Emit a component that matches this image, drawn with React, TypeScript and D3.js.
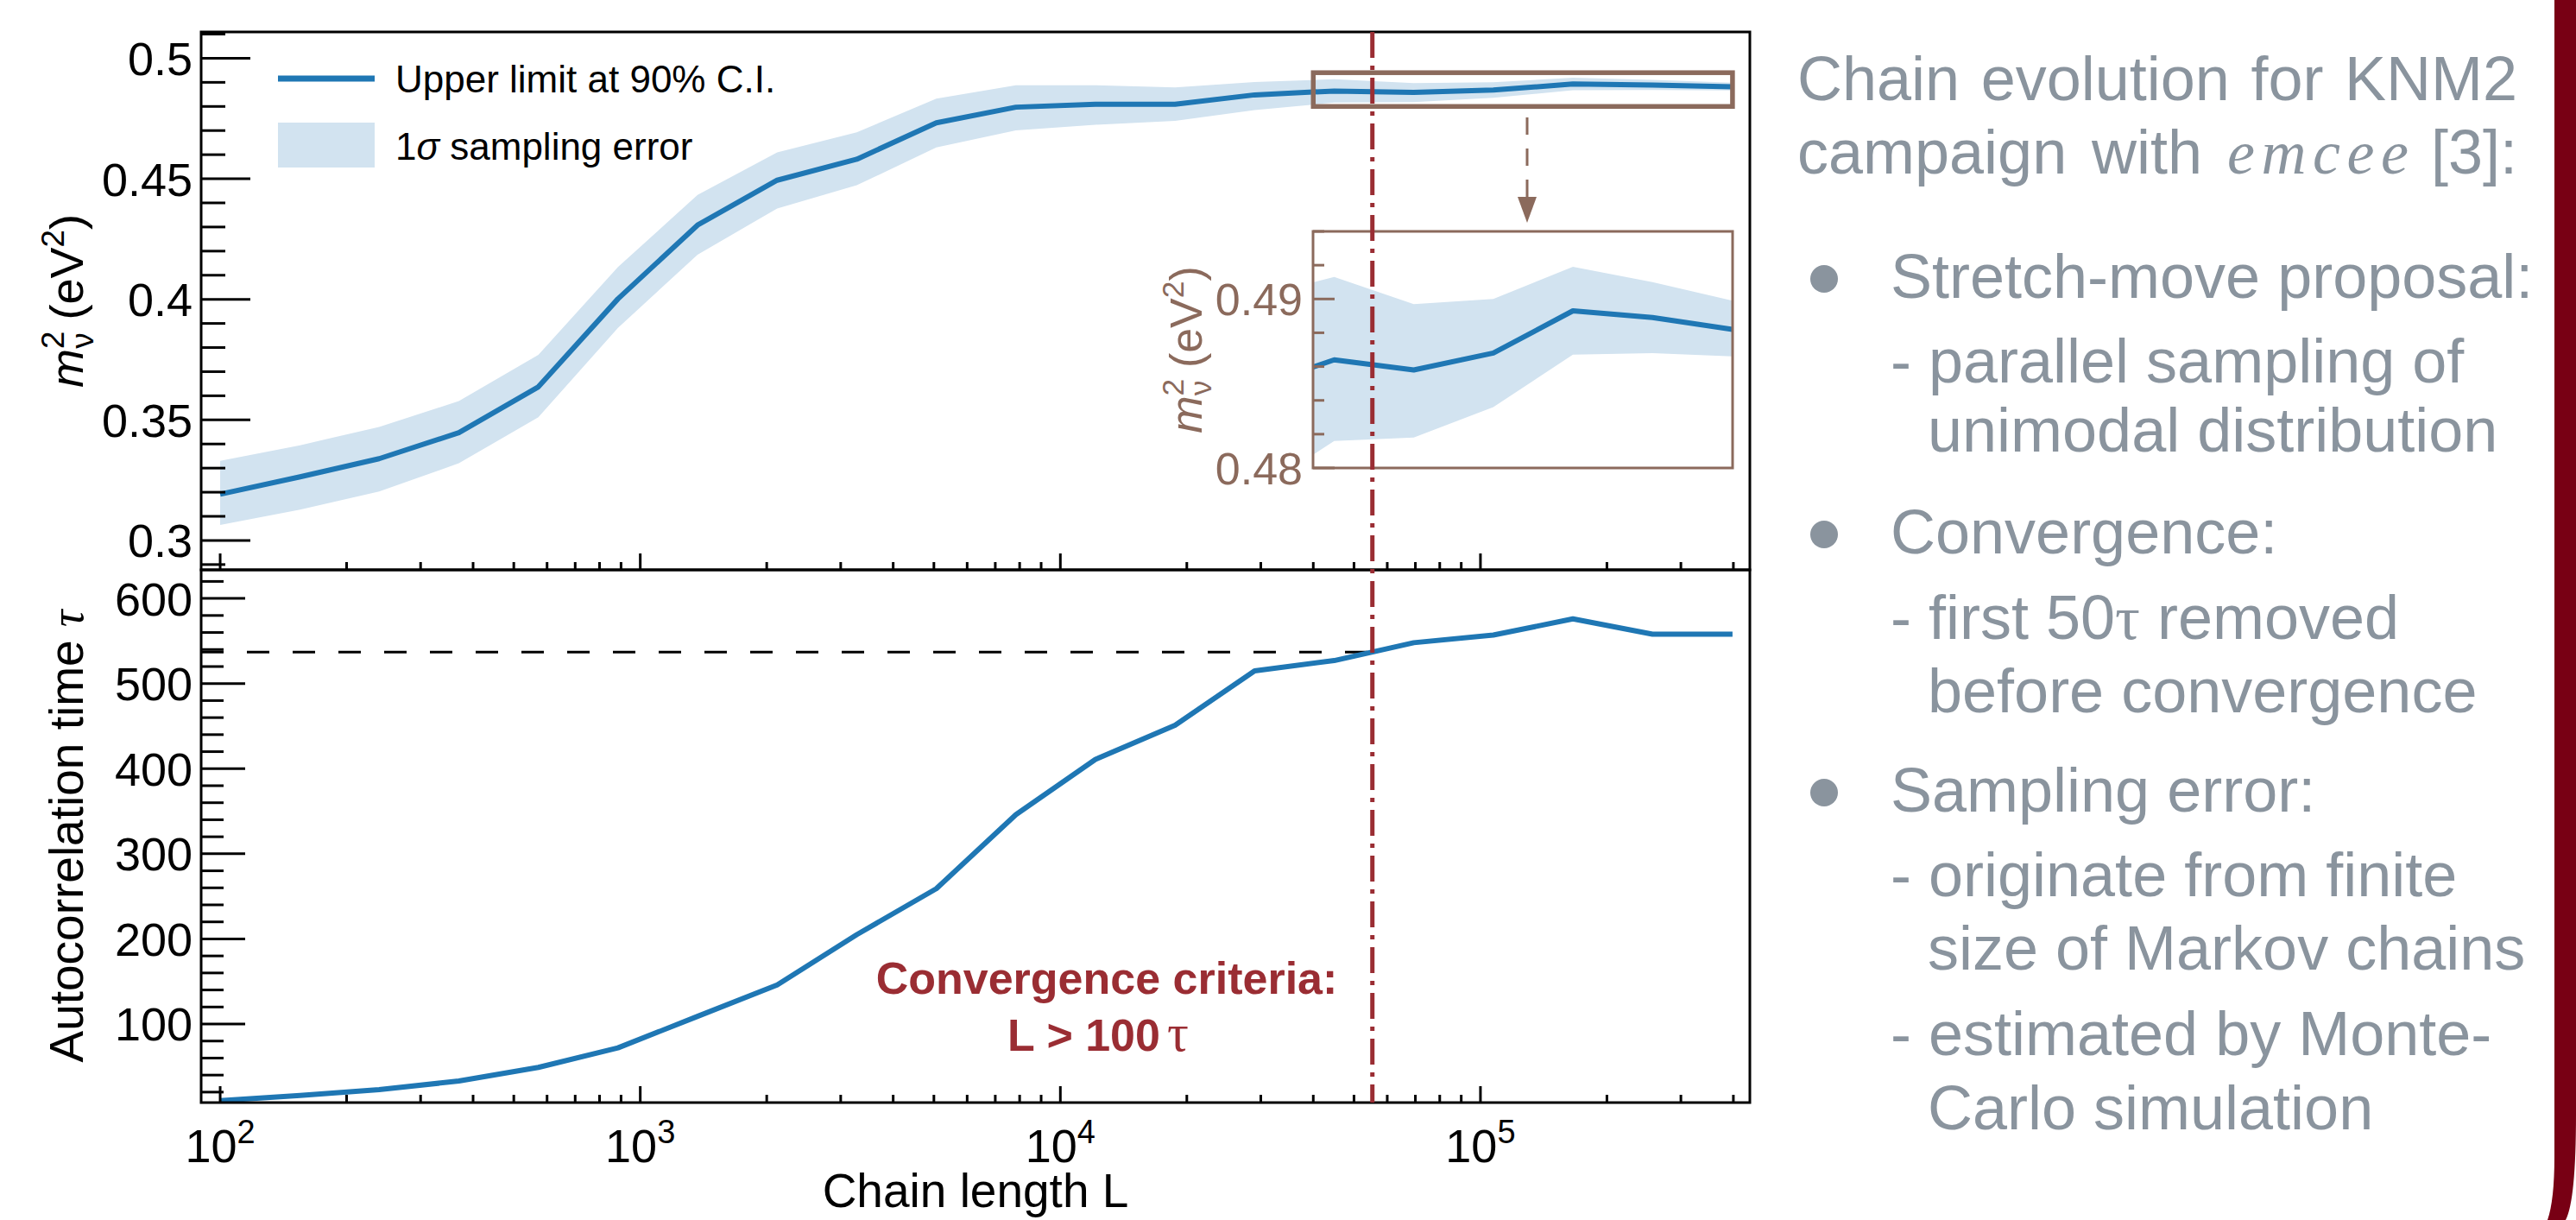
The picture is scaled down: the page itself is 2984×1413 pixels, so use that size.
import React, { useEffect, useRef } from 'react';
import * as d3 from 'd3';

// chain length L at which the chain was evaluated
const chainLength = [100, 155, 239, 370, 572, 885, 1369, 2118, 3276, 5067, 7837, 12122, 18750, 29001, 44857, 69382, 107316, 165990, 256747, 398107];
// upper limit on m_nu^2 at 90% C.I. (eV^2) and its 1 sigma sampling band
const upperLimit = [0.3192, 0.3264, 0.3339, 0.3447, 0.3637, 0.4002, 0.4308, 0.4494, 0.4581, 0.4732, 0.4797, 0.4809, 0.4809, 0.4848, 0.4864, 0.4858, 0.4868, 0.4893, 0.4889, 0.4882];
const errLow = [0.3064, 0.3128, 0.3203, 0.332, 0.3511, 0.3882, 0.4185, 0.4377, 0.4473, 0.463, 0.4701, 0.4724, 0.474, 0.4785, 0.4816, 0.4818, 0.4836, 0.4867, 0.4868, 0.4866];
const errHigh = [0.333, 0.3395, 0.3471, 0.3578, 0.377, 0.4134, 0.4433, 0.4609, 0.4693, 0.4832, 0.4888, 0.4888, 0.4879, 0.4901, 0.4913, 0.4897, 0.49, 0.4919, 0.491, 0.4899];
// autocorrelation time tau
const autocorrTime = [10, 16, 23, 33, 49, 72, 109, 146, 205, 259, 346, 411, 451, 515, 527, 548, 557, 576, 558, 558];

const convergenceL = 55300;
const convergenceTau = 537;
const zoomL = [40000, 398107];
const zoomM = [0.48, 0.494];

const massTicks = [0.3, 0.35, 0.4, 0.45, 0.5];
const tauTicks = [100, 200, 300, 400, 500, 600];
const insetTicks = [0.48, 0.49];
const decades = [2, 3, 4, 5];

const legendLabels = ['Upper limit at 90% C.I.', 'sampling error'];

const introWords = [
  ['Chain', 'evolution', 'for', 'KNM2'],
  ['campaign', 'with', 'emcee', '[3]:'],
];
const bulletHeads = ['Stretch-move proposal:', 'Convergence:', 'Sampling error:'];
const bulletDetails = [
  ['- parallel sampling of', 'unimodal distribution'],
  ['- first 50τ removed', 'before convergence'],
  ['- originate from finite', 'size of Markov chains', '- estimated by Monte-', 'Carlo simulation'],
];

const sans = '"Liberation Sans", Arial, Helvetica, sans-serif';
const serif = '"Liberation Serif", "DejaVu Serif", serif';
const blue = '#1f77b4';
const bandColor = '#d2e3f0';
const brown = '#8b6a5c';
const darkRed = '#9a2d33';
const gray = '#8a949e';

function ChainEvolution() {
  const ref = useRef(null);

  useEffect(() => {
    const svg = d3.select(ref.current);
    svg.selectAll('*').remove();

    const left = 233, right = 2027, top = 37, mid = 660, bottom = 1277;
    const inset = { x0: 1521, x1: 2007, y0: 268, y1: 542 };

    const x = d3.scaleLog().domain([90.1, 437800]).range([left, right]);
    const yM = d3.scaleLinear().domain([0.2878, 0.5109]).range([mid, top]);
    const yT = d3.scaleLinear().domain([7.7, 633.6]).range([bottom, mid]);
    const yI = d3.scaleLinear().domain(zoomM).range([inset.y1, inset.y0]);
    const idx = d3.range(chainLength.length);

    const defs = svg.append('defs');
    const clip = (id, x0, y0, x1, y1) =>
      defs.append('clipPath').attr('id', id).append('rect')
        .attr('x', x0).attr('y', y0).attr('width', x1 - x0).attr('height', y1 - y0);
    clip('clipTop', left, top, right, mid);
    clip('clipBot', left, mid, right, bottom);
    clip('clipInset', inset.x0, inset.y0, inset.x1, inset.y1);

    // upper panel: band + limit
    const band = (ys) => d3.area().x(i => x(chainLength[i])).y0(i => ys(errLow[i])).y1(i => ys(errHigh[i]));
    const limit = (ys) => d3.line().x(i => x(chainLength[i])).y(i => ys(upperLimit[i]));

    const gTop = svg.append('g').attr('clip-path', 'url(#clipTop)');
    gTop.append('path').attr('d', band(yM)(idx)).attr('fill', bandColor);
    gTop.append('path').attr('d', limit(yM)(idx))
      .attr('fill', 'none').attr('stroke', blue).attr('stroke-width', 6).attr('stroke-linejoin', 'round');

    // lower panel: autocorrelation time
    const gBot = svg.append('g').attr('clip-path', 'url(#clipBot)');
    gBot.append('line')
      .attr('x1', left).attr('x2', x(convergenceL))
      .attr('y1', yT(convergenceTau)).attr('y2', yT(convergenceTau))
      .attr('stroke', '#000').attr('stroke-width', 3).attr('stroke-dasharray', '26,27');
    gBot.append('path')
      .attr('d', d3.line().x(i => x(chainLength[i])).y(i => yT(autocorrTime[i]))(idx))
      .attr('fill', 'none').attr('stroke', blue).attr('stroke-width', 6).attr('stroke-linejoin', 'round');

    // spines
    [[top, mid], [mid, bottom]].forEach(([a, b]) => {
      svg.append('rect').attr('x', left).attr('y', a).attr('width', right - left).attr('height', b - a)
        .attr('fill', 'none').attr('stroke', '#000').attr('stroke-width', 3);
    });

    const tickLine = (x1, y1, x2, y2, color, w) =>
      svg.append('line').attr('x1', x1).attr('y1', y1).attr('x2', x2).attr('y2', y2)
        .attr('stroke', color).attr('stroke-width', w);

    // y ticks, pointing inward
    d3.range(29, 52).forEach(i => {
      const len = i % 5 === 0 ? 57 : 28;
      tickLine(left, yM(i / 100), left + len, yM(i / 100), '#000', 3);
    });
    d3.range(20, 640, 20).forEach(v => {
      const len = v % 100 === 0 ? 51 : 26;
      tickLine(left, yT(v), left + len, yT(v), '#000', 3);
    });

    // x ticks on both panels
    x.ticks().forEach(v => {
      const major = Math.abs(Math.log10(v) - Math.round(Math.log10(v))) < 1e-9;
      const len = major ? 19 : 9;
      tickLine(x(v), mid, x(v), mid - len, '#000', 3);
      tickLine(x(v), bottom, x(v), bottom - len, '#000', 3);
    });

    const label = svg.append('g').attr('font-family', sans).attr('fill', '#000');

    massTicks.forEach(v => {
      label.append('text').attr('x', left - 10).attr('y', yM(v)).attr('dy', '0.36em')
        .attr('text-anchor', 'end').attr('font-size', 54).text(String(v));
    });
    tauTicks.forEach(v => {
      label.append('text').attr('x', left - 10).attr('y', yT(v)).attr('dy', '0.36em')
        .attr('text-anchor', 'end').attr('font-size', 54).text(String(v));
    });
    decades.forEach(d => {
      const t = label.append('text').attr('x', x(10 ** d)).attr('y', 1346)
        .attr('text-anchor', 'middle').attr('font-size', 54);
      t.append('tspan').text('10');
      t.append('tspan').attr('font-size', 38).attr('dy', -22).text(String(d));
    });

    label.append('text').attr('x', (left + right) / 2).attr('y', 1398)
      .attr('text-anchor', 'middle').attr('font-size', 55).text('Chain length L');

    const massLabel = (g, cx, cy, size, color) => {
      const t = g.append('text').attr('transform', `translate(${cx},${cy}) rotate(-90)`)
        .attr('text-anchor', 'middle').attr('font-size', size).attr('fill', color).attr('font-family', sans);
      const s = size * 0.68;
      t.append('tspan').attr('font-style', 'italic').text('m');
      t.append('tspan').attr('font-size', s).attr('dy', -size * 0.4).text('2');
      t.append('tspan').attr('font-size', s).attr('dx', -s * 0.55).attr('dy', size * 0.62).text('ν');
      t.append('tspan').attr('dy', -size * 0.22).text(' (eV');
      t.append('tspan').attr('font-size', s).attr('dy', -size * 0.4).text('2');
      t.append('tspan').attr('dy', size * 0.4).text(')');
    };
    massLabel(label, 96, (top + mid) / 2, 54, '#000');

    const tauLabel = label.append('text').attr('transform', `translate(96,${(mid + bottom) / 2}) rotate(-90)`)
      .attr('text-anchor', 'middle').attr('font-size', 55);
    tauLabel.append('tspan').text('Autocorrelation time ');
    tauLabel.append('tspan').attr('font-family', serif).attr('font-style', 'italic').text('τ');

    // legend
    tickLine(322, 91, 434, 91, blue, 7);
    svg.append('rect').attr('x', 322).attr('y', 142).attr('width', 112).attr('height', 52).attr('fill', bandColor);
    label.append('text').attr('x', 458).attr('y', 107).attr('font-size', 44).text(legendLabels[0]);
    const l2 = label.append('text').attr('x', 458).attr('y', 185).attr('font-size', 44);
    l2.append('tspan').text('1');
    l2.append('tspan').attr('font-style', 'italic').text('σ');
    l2.append('tspan').text(' ' + legendLabels[1]);

    // zoom box and arrow
    svg.append('rect')
      .attr('x', x(zoomL[0])).attr('y', yM(zoomM[1]))
      .attr('width', x(zoomL[1]) - x(zoomL[0])).attr('height', yM(zoomM[0]) - yM(zoomM[1]))
      .attr('fill', 'none').attr('stroke', brown).attr('stroke-width', 5.5);
    const ax = (inset.x0 + inset.x1) / 2 + 5;
    svg.append('line').attr('x1', ax).attr('x2', ax).attr('y1', 136).attr('y2', 232)
      .attr('stroke', brown).attr('stroke-width', 3).attr('stroke-dasharray', '20,16');
    svg.append('path').attr('d', `M${ax - 11},228 L${ax + 11},228 L${ax},258 Z`).attr('fill', brown);

    // inset
    svg.append('rect').attr('x', inset.x0).attr('y', inset.y0)
      .attr('width', inset.x1 - inset.x0).attr('height', inset.y1 - inset.y0).attr('fill', '#fff');
    const gIn = svg.append('g').attr('clip-path', 'url(#clipInset)');
    gIn.append('path').attr('d', band(yI)(idx)).attr('fill', bandColor);
    gIn.append('path').attr('d', limit(yI)(idx))
      .attr('fill', 'none').attr('stroke', blue).attr('stroke-width', 6).attr('stroke-linejoin', 'round');
    svg.append('rect').attr('x', inset.x0).attr('y', inset.y0)
      .attr('width', inset.x1 - inset.x0).attr('height', inset.y1 - inset.y0)
      .attr('fill', 'none').attr('stroke', brown).attr('stroke-width', 3);
    d3.range(240, 248).forEach(i => {
      const len = i % 5 === 0 ? 25 : 13;
      tickLine(inset.x0, yI(i / 500), inset.x0 + len, yI(i / 500), brown, 3);
    });
    insetTicks.forEach(v => {
      svg.append('text').attr('x', inset.x0 - 12).attr('y', yI(v)).attr('dy', '0.36em')
        .attr('text-anchor', 'end').attr('font-size', 52).attr('font-family', sans)
        .attr('fill', brown).text(String(v));
    });
    massLabel(svg, 1392, (inset.y0 + inset.y1) / 2, 52, brown);

    // convergence criterion
    svg.append('line').attr('x1', x(convergenceL)).attr('x2', x(convergenceL)).attr('y1', top).attr('y2', bottom)
      .attr('stroke', darkRed).attr('stroke-width', 5).attr('stroke-dasharray', '30,9,5,9');
    const conv = svg.append('g').attr('fill', darkRed).attr('font-family', sans).attr('font-weight', 'bold')
      .attr('font-size', 52).attr('text-anchor', 'middle');
    conv.append('text').attr('x', 1282).attr('y', 1151).text('Convergence criteria:');
    const c2 = conv.append('text').attr('x', 1272).attr('y', 1217);
    c2.append('tspan').text('L > 100');
    c2.append('tspan').attr('font-family', serif).attr('font-weight', 'normal').attr('font-size', 62).attr('dx', 8).text('τ');

    // side notes
    const note = svg.append('g').attr('fill', gray).attr('font-family', sans).attr('font-size', 72);
    const introBase = [116, 201];
    const headBase = [345, 641, 940];
    const detailBase = [[443, 523], [740, 825], [1038, 1123, 1222, 1308]];
    const textX = 2082, textRight = 2916, headX = 2190, contX = 2233, bulletX = 2113;
    const emceeWidth = 222;

    introWords.forEach((words, li) => {
      const nodes = words.map(w => {
        const t = note.append('text').attr('y', introBase[li]).text(w);
        if (w === 'emcee') {
          t.attr('font-family', serif).attr('font-style', 'italic').attr('font-size', 72)
            .attr('textLength', emceeWidth - 12).attr('lengthAdjust', 'spacing');
        }
        return t;
      });
      const widths = nodes.map((n, i) =>
        words[i] === 'emcee' ? emceeWidth : n.node().getComputedTextLength());
      const tight = words.indexOf('emcee');
      const tightGap = 14;
      const gaps = words.length - 1 - (tight >= 0 ? 1 : 0);
      const free = textRight - textX - d3.sum(widths) - (tight >= 0 ? tightGap : 0);
      const gap = free / gaps;
      let cx = textX;
      nodes.forEach((n, i) => {
        n.attr('x', cx);
        cx += widths[i] + (i === tight ? tightGap : gap);
      });
    });

    const writeLine = (str, xPos, y) => {
      const t = note.append('text').attr('x', xPos).attr('y', y);
      str.split('τ').forEach((part, i) => {
        if (i > 0) t.append('tspan').attr('font-family', serif).text('τ');
        t.append('tspan').text(part);
      });
    };

    bulletHeads.forEach((head, bi) => {
      note.append('circle').attr('cx', bulletX).attr('cy', headBase[bi] - 22).attr('r', 16);
      writeLine(head, headX, headBase[bi]);
      bulletDetails[bi].forEach((line, di) => {
        writeLine(line, line.startsWith('-') ? headX : contX, detailBase[bi][di]);
      });
    });

    // frame edge on the right
    svg.append('path')
      .attr('d', 'M2959,0 H2984 V1290 Q2984,1390 2972,1413 H2951 Q2959,1390 2959,1340 Z')
      .attr('fill', '#780014');
  }, []);

  return (
    <svg ref={ref} width={2984} height={1413}
      style={{ position: 'absolute', left: 0, top: 0, background: '#fff' }} />
  );
}

export default function App() {
  return <ChainEvolution />;
}
